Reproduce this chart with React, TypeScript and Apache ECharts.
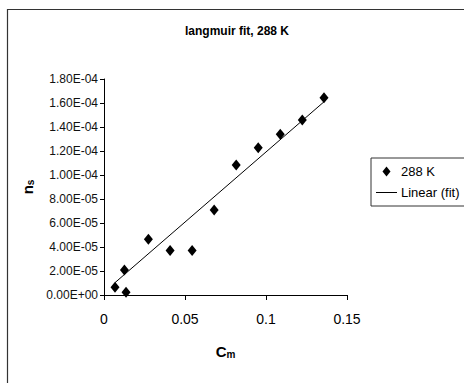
import React, { useEffect, useRef } from "react";
import * as echarts from "echarts";

const cmValues = [0.0068, 0.0126, 0.0136, 0.0274, 0.0408, 0.0544, 0.068, 0.0816, 0.0952, 0.1088, 0.1224, 0.1358];
const nsValues = [6.4e-6, 2.08e-5, 2.2e-6, 4.64e-5, 3.7e-5, 3.7e-5, 7.08e-5, 1.083e-4, 1.228e-4, 1.339e-4, 1.458e-4, 1.644e-4];
const fitX = [0.0068, 0.1358];
const fitY = [1.03e-5, 1.61e-4];
const seriesNames = ["288 K", "Linear (fit)"];
const titleText = "langmuir fit, 288 K";

function fmtSci(v: number): string {
  const s = v.toExponential(2);
  const [m, e] = s.split("e");
  const n = parseInt(e, 10);
  const sign = n < 0 ? "-" : "+";
  return m + "E" + sign + String(Math.abs(n)).padStart(2, "0");
}

const FONT = "'Liberation Sans', Arial, sans-serif";

export default function App() {
  const ref = useRef<HTMLDivElement>(null);
  useEffect(() => {
    if (!ref.current) return;
    const chart = echarts.init(ref.current, null, { renderer: "svg" });
    chart.setOption({
      animation: false,
      backgroundColor: "#ffffff",
      textStyle: { fontFamily: FONT },
      title: {
        text: titleText,
        left: 185,
        top: 25,
        padding: 0,
        textStyle: { fontSize: 12, fontWeight: "bold", color: "#000", fontFamily: FONT },
      },
      graphic: [
        {
          type: "rect",
          shape: { x: 7.5, y: 9.5, width: 520, height: 420 },
          style: { fill: "none", stroke: "#333", lineWidth: 1.2 },
          silent: true,
        },
      ],
      legend: {
        orient: "vertical",
        left: 371,
        top: 158,
        padding: [7, 8, 7, 5],
        itemGap: 8,
        itemWidth: 21,
        itemHeight: 10,
        borderColor: "#333",
        borderWidth: 1,
        backgroundColor: "#fff",
        textStyle: { fontSize: 13, color: "#000", fontFamily: FONT, padding: [0, 0, 0, -1] },
        data: [
          { name: seriesNames[0], icon: "path://M4,0 L8,5 L4,10 L0,5 Z", itemStyle: { color: "#000", opacity: 1 } },
          { name: seriesNames[1], icon: "path://M0,0 L21,0 L21,1 L0,1 Z", itemStyle: { color: "#000", opacity: 1 } },
        ],
      },
      grid: { left: 104, right: 117, top: 79, bottom: 88, containLabel: false },
      xAxis: {
        type: "value",
        min: 0,
        max: 0.15,
        interval: 0.05,
        name: "{a|C}{b|m}",
        nameLocation: "middle",
        nameGap: 48,
        nameTextStyle: {
          rich: {
            a: { fontSize: 15, fontWeight: "bold", color: "#000", fontFamily: FONT },
            b: { fontSize: 10, fontWeight: "bold", color: "#000", fontFamily: FONT, verticalAlign: "bottom", padding: [6, 0, 0, 0] },
          },
        },
        axisLine: { show: true, onZero: false, lineStyle: { color: "#000", width: 1 } },
        axisTick: { show: true, inside: false, length: 5, lineStyle: { color: "#000" } },
        axisLabel: { fontSize: 14, color: "#000", margin: 17, fontFamily: FONT },
        splitLine: { show: false },
      },
      yAxis: {
        type: "value",
        min: 0,
        max: 1.8e-4,
        interval: 2e-5,
        name: "{a|n}{b|s}",
        nameLocation: "middle",
        nameGap: 66,
        nameRotate: 90,
        nameTextStyle: {
          rich: {
            a: { fontSize: 15, fontWeight: "bold", color: "#000", fontFamily: FONT },
            b: { fontSize: 10, fontWeight: "bold", color: "#000", fontFamily: FONT, verticalAlign: "bottom", padding: [6, 0, 0, 0] },
          },
        },
        axisLine: { show: true, onZero: false, lineStyle: { color: "#000", width: 1 } },
        axisTick: { show: true, inside: false, length: 4, lineStyle: { color: "#000" } },
        axisLabel: { fontSize: 12, color: "#111", margin: 6, fontFamily: FONT, formatter: (v: number) => fmtSci(v) },
        splitLine: { show: false },
      },
      series: [
        {
          name: seriesNames[0],
          type: "scatter",
          symbol: "diamond",
          symbolSize: [9, 11],
          itemStyle: { color: "#000", opacity: 1 },
          data: cmValues.map((x, i) => [x, nsValues[i]]),
          z: 3,
        },
        {
          name: seriesNames[1],
          type: "line",
          symbol: "none",
          showSymbol: false,
          lineStyle: { color: "#000", width: 1 },
          itemStyle: { color: "#000" },
          data: fitX.map((x, i) => [x, fitY[i]]),
          z: 2,
        },
      ],
    });
    return () => chart.dispose();
  }, []);
  return (
    <div
      ref={ref}
      style={{ position: "fixed", left: 0, top: 0, width: 464, height: 383 }}
    />
  );
}
